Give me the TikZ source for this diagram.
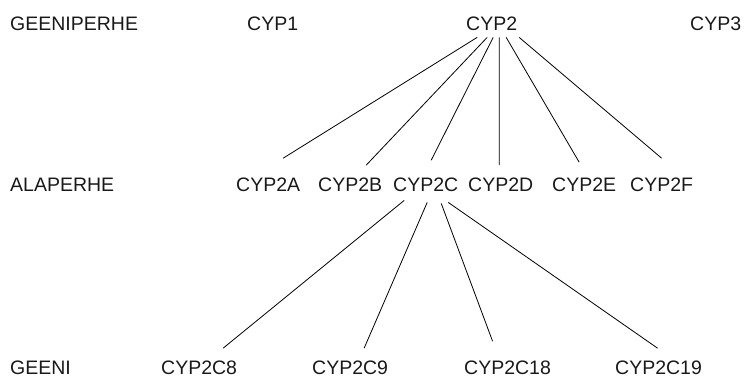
\documentclass[tikz,border=0pt]{standalone}
\usepackage{fontspec}
\setmainfont{Liberation Sans}
\begin{document}
\begin{tikzpicture}[x=1pt,y=-1pt,
  lbl/.style={anchor=base west,inner sep=0pt,font=\fontsize{19.5}{20}\selectfont,text=black!90},
  link/.style={line width=0.8pt,black}]
\useasboundingbox (0,0) rectangle (745,378);
% row 1
\node[lbl] (lev1) at (10,30) {GEENIPERHE};
\node[lbl] (cyp1) at (247,30) {CYP1};
\node[lbl] (cyp2) at (466,30) {CYP2};
\node[lbl] (cyp3) at (690,30) {CYP3};
% row 2
\node[lbl] (lev2) at (10,191) {ALAPERHE};
\node[lbl] (cyp2a) at (236,191) {CYP2A};
\node[lbl] (cyp2b) at (318,191) {CYP2B};
\node[lbl] (cyp2c) at (393,191) {CYP2C};
\node[lbl] (cyp2d) at (468,191) {CYP2D};
\node[lbl] (cyp2e) at (552,191) {CYP2E};
\node[lbl] (cyp2f) at (630,191) {CYP2F};
% row 3
\node[lbl] (lev3) at (10,374) {GEENI};
\node[lbl] (cyp2c8) at (161,374) {CYP2C8};
\node[lbl] (cyp2c9) at (312,374) {CYP2C9};
\node[lbl] (cyp2c18) at (464,374) {CYP2C18};
\node[lbl] (cyp2c19) at (615,374) {CYP2C19};
% links CYP2 -> subfamilies
\draw[link] ([xshift=-14.5pt,yshift=-7pt]cyp2.south) -- ([xshift=15pt,yshift=19pt]cyp2a.north);
\draw[link] ([xshift=-4.5pt,yshift=-7pt]cyp2.south) -- ([xshift=16pt,yshift=12pt]cyp2b.north);
\draw[link] ([xshift=1.5pt,yshift=-7pt]cyp2.south) -- ([xshift=5.5pt,yshift=17pt]cyp2c.north);
\draw[link] ([xshift=7.5pt,yshift=-7pt]cyp2.south) -- ([xshift=-1.5pt,yshift=12pt]cyp2d.north);
\draw[link] ([xshift=14.5pt,yshift=-7pt]cyp2.south) -- ([xshift=-5pt,yshift=15pt]cyp2e.north);
\draw[link] ([xshift=27.5pt,yshift=-7pt]cyp2.south) -- ([xshift=0pt,yshift=19pt]cyp2f.north);
% links CYP2C -> genes
\draw[link] ([xshift=-21.5pt,yshift=-9pt]cyp2c.south) -- ([xshift=24pt,yshift=12pt]cyp2c8.north);
\draw[link] ([xshift=1.5pt,yshift=-11pt]cyp2c.south) -- ([xshift=14pt,yshift=12pt]cyp2c9.north);
\draw[link] ([xshift=15.5pt,yshift=-12pt]cyp2c.south) -- ([xshift=-15pt,yshift=19pt]cyp2c18.north);
\draw[link] ([xshift=22.5pt,yshift=-11pt]cyp2c.south) -- ([xshift=-1pt,yshift=12pt]cyp2c19.north);
\end{tikzpicture}
\end{document}
